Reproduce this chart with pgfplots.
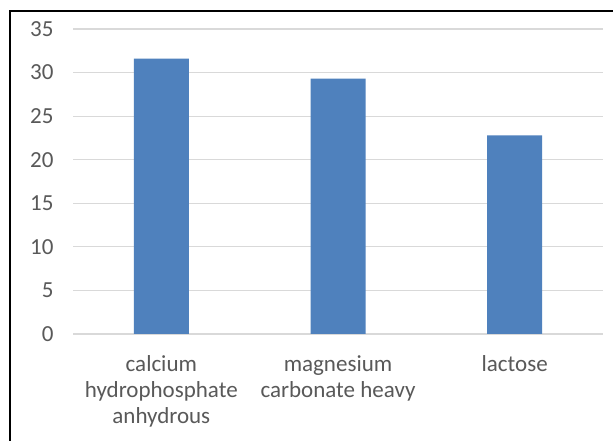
\documentclass[border=0pt]{standalone}
\usepackage{pgfplots}
\pgfplotsset{compat=1.18}
\usepackage{fontspec}
\setmainfont{Carlito}
\definecolor{barblue}{HTML}{4F81BD}
\definecolor{txtgray}{HTML}{595959}
\definecolor{gridgray}{HTML}{D9D9D9}
\begin{document}
\begin{tikzpicture}[x=1pt,y=1pt]
\useasboundingbox (0,0) rectangle (613,441);
\fill[white] (0,0) rectangle (613,441);
\begin{axis}[
  at={(73pt,107pt)}, anchor=south west,
  scale only axis, width=530pt, height=305pt,
  xmin=-0.5, xmax=2.5, ymin=0, ymax=35,
  ytick={0,5,...,35},
  xtick={0,1,2},
  xticklabels={{calcium\\hydrophosphate\\anhydrous},{magnesium\\carbonate heavy},{lactose}},
  axis line style={draw=none},
  major tick length=0pt,
  ymajorgrids, grid style={gridgray, line width=1.2pt},
  tick label style={font=\fontsize{23}{26}\selectfont, text=txtgray},
  xticklabel style={align=center, anchor=north, yshift=-18pt},
  yticklabel style={anchor=east, xshift=-16pt},
  /pgf/number format/assume math mode=true,
  clip=false,
]
\addplot[ybar, bar width=55pt, fill=barblue, draw=none] coordinates {(0,31.6) (1,29.3) (2,22.8)};
\end{axis}
\draw[line width=2pt] (10,0) -- (10,430) -- (613,430);
\end{tikzpicture}
\end{document}
